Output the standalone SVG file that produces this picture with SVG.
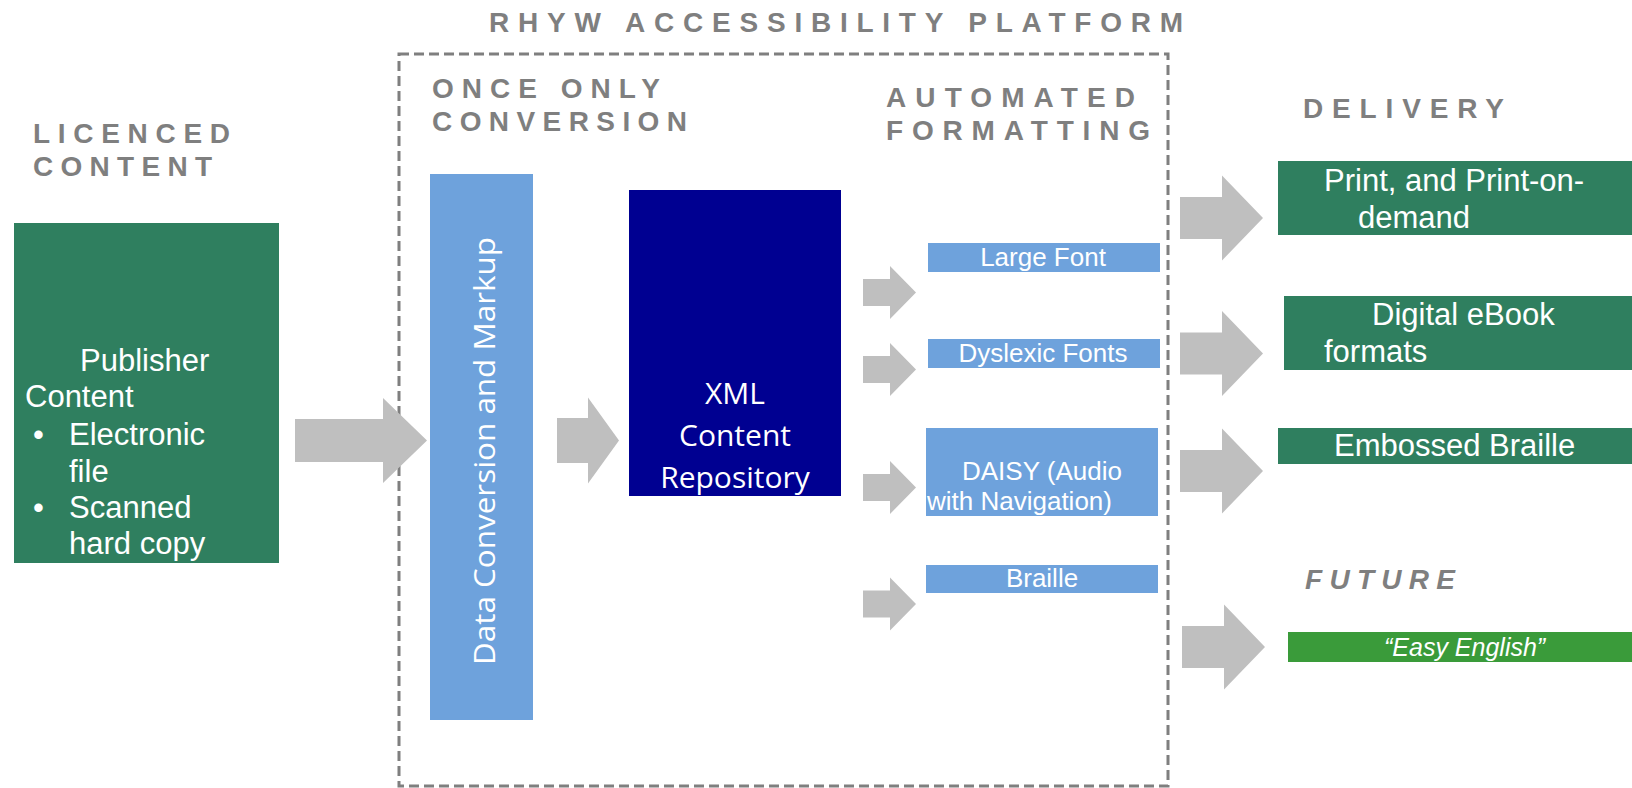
<svg xmlns="http://www.w3.org/2000/svg" width="1632" height="788" viewBox="0 0 1632 788">
<style>
.hd{font-family:"Liberation Sans",Arial,sans-serif;font-weight:bold;font-size:28px;fill:#7f7f7f}
.wt{font-family:"Liberation Sans",Arial,sans-serif;fill:#ffffff}
.cal{font-family:"Open Sans","Liberation Sans",sans-serif;fill:#ffffff}
.green{fill:#2f7f5f}
.blue{fill:#6ea2dc}
.arr{fill:#bfbfbf}
</style>
<defs>
<path id="bigL" d="M0,-21.5 H88 V-42.5 L132,0 L88,42.5 V21.5 H0 Z"/>
<path id="midA" d="M0,-22.5 H31 V-43 L62,0 L31,43 V22.5 H0 Z"/>
<path id="smallA" d="M0,-13.5 H27 V-26.5 L53,0 L27,26.5 V13.5 H0 Z"/>
<path id="bigR" d="M0,-21 H42 V-42.5 L83,0 L42,42.5 V21 H0 Z"/>
</defs>
<rect width="1632" height="788" fill="#ffffff"/>

<g id="headings">
<text class="hd" x="489" y="32" textLength="694" lengthAdjust="spacing">RHYW ACCESSIBILITY PLATFORM</text>
<text class="hd" x="33" y="143" textLength="197" lengthAdjust="spacing">LICENCED</text>
<text class="hd" x="33" y="176" textLength="179" lengthAdjust="spacing">CONTENT</text>
<text class="hd" x="432" y="98" textLength="228" lengthAdjust="spacing">ONCE ONLY</text>
<text class="hd" x="432" y="131" textLength="255" lengthAdjust="spacing">CONVERSION</text>
<text class="hd" x="886" y="107" textLength="249" lengthAdjust="spacing">AUTOMATED</text>
<text class="hd" x="886" y="140" textLength="264" lengthAdjust="spacing">FORMATTING</text>
<text class="hd" x="1303" y="118" textLength="201" lengthAdjust="spacing">DELIVERY</text>
<text class="hd" x="1305" y="589" font-style="italic" textLength="150" lengthAdjust="spacing">FUTURE</text>
</g>

<g id="platform">
<rect x="399" y="54" width="769" height="732" fill="none" stroke="#7f7f7f" stroke-width="3" stroke-dasharray="10 5"/>
</g>

<g id="publisher">
<rect class="green" x="14" y="223" width="265" height="340"/>
<text class="wt" font-size="31"><tspan x="80" y="371">Publisher</tspan><tspan x="25" y="407">Content</tspan><tspan x="33" y="445">•</tspan><tspan x="69" y="445">Electronic</tspan><tspan x="69" y="482">file</tspan><tspan x="33" y="518">•</tspan><tspan x="69" y="518">Scanned</tspan><tspan x="69" y="554">hard copy</tspan></text>
</g>

<g id="dataconv">
<rect class="blue" x="430" y="174" width="103" height="546"/>
<text class="cal" font-size="29" text-anchor="middle" transform="translate(495,451) rotate(-90)" x="0" y="0" textLength="428" lengthAdjust="spacingAndGlyphs">Data Conversion and Markup</text>
</g>

<g id="xmlrepo">
<rect x="629" y="190" width="212" height="306" fill="#000091"/>
<text class="cal" font-size="30" text-anchor="middle"><tspan x="735" y="404">XML</tspan><tspan x="735" y="446">Content</tspan><tspan x="735" y="488">Repository</tspan></text>
</g>

<g id="largefont">
<rect class="blue" x="928" y="243" width="232" height="29"/>
<text class="wt" font-size="26" x="1043" y="266" text-anchor="middle">Large Font</text>
</g>
<g id="dyslexic">
<rect class="blue" x="928" y="339" width="232" height="29"/>
<text class="wt" font-size="26" x="1043" y="362" text-anchor="middle">Dyslexic Fonts</text>
</g>
<g id="daisy">
<rect class="blue" x="926" y="428" width="232" height="88"/>
<text class="wt" font-size="26"><tspan x="962" y="480">DAISY (Audio</tspan><tspan x="927" y="510">with Navigation)</tspan></text>
</g>
<g id="braille">
<rect class="blue" x="926" y="565" width="232" height="28"/>
<text class="wt" font-size="26" x="1042" y="587" text-anchor="middle">Braille</text>
</g>

<g id="print">
<rect class="green" x="1278" y="161" width="354" height="74"/>
<text class="wt" font-size="31"><tspan x="1324" y="191">Print, and Print-on-</tspan><tspan x="1358" y="228">demand</tspan></text>
</g>
<g id="digital">
<rect class="green" x="1284" y="296" width="348" height="74"/>
<text class="wt" font-size="31"><tspan x="1372" y="325">Digital eBook</tspan><tspan x="1324" y="362">formats</tspan></text>
</g>
<g id="embossed">
<rect class="green" x="1278" y="428" width="354" height="36"/>
<text class="wt" font-size="31" x="1334" y="456">Embossed Braille</text>
</g>
<g id="easyenglish">
<rect x="1288" y="632" width="344" height="30" fill="#3a9b3a"/>
<text class="wt" font-size="25" font-style="italic" x="1384" y="656">“Easy English”</text>
</g>

<g id="connectors" class="arr">
<use href="#bigL" x="295" y="440.5"/>
<use href="#midA" x="557" y="440.5"/>
<use href="#smallA" x="863" y="292.5"/>
<use href="#smallA" x="863" y="369.5"/>
<use href="#smallA" x="863" y="487.5"/>
<use href="#smallA" x="863" y="604"/>
<use href="#bigR" x="1180" y="218"/>
<use href="#bigR" x="1180" y="353.5"/>
<use href="#bigR" x="1180" y="471"/>
<use href="#bigR" x="1182" y="647"/>
</g>
</svg>
